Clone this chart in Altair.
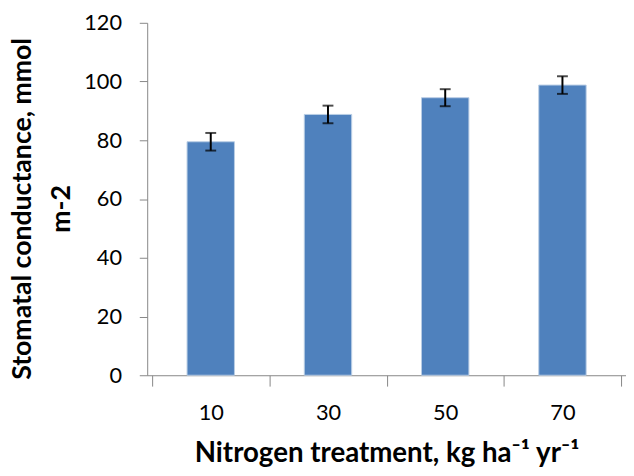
import altair as alt
import pandas as pd

nitrogen = [10, 30, 50, 70]
conductance = [79.5, 88.8, 94.5, 98.8]
std_err = [3.0, 3.0, 2.9, 3.0]
y_ticks = [0, 20, 40, 60, 80, 100, 120]
x_ticks = [0, 10, 20, 30, 40, 50, 60, 70, 80]

df = pd.DataFrame({"n": nitrogen, "g": conductance, "e": std_err})
df["lo"] = df["g"] - df["e"]
df["hi"] = df["g"] + df["e"]

FONT = "Lato"
AX = "#868686"

x_axis = alt.Axis(
    values=x_ticks,
    labelExpr="datum.value % 20 == 10 ? datum.label : ''",
    tickOpacity={"condition": {"test": "datum.value % 20 != 0", "value": 0}, "value": 1},
    title="Nitrogen treatment, kg ha⁻¹ yr⁻¹",
    grid=False, domainColor=AX, tickColor=AX, tickSize=11,
    labelPadding=17, labelFontSize=22, labelFont=FONT, labelColor="black",
    labelOverlap=False, labelFlush=False,
    titleFontSize=28, titleFontWeight="bold", titleFont=FONT, titleColor="black",
    titlePadding=16,
)
y_axis = alt.Axis(
    values=y_ticks,
    title=["Stomatal conductance, mmol", "m-2"],
    grid=False, domainColor=AX, tickColor=AX, tickSize=8,
    labelPadding=18, labelFontSize=22, labelFont=FONT, labelColor="black",
    titleFontSize=27, titleFontWeight="bold", titleFont=FONT, titleColor="black",
    titlePadding=8, titleLineHeight=40, titleY=188,
)

xs = alt.X("n:Q", scale=alt.Scale(domain=[0, 80], nice=False, zero=False), axis=x_axis)
ys = alt.Y("g:Q", scale=alt.Scale(domain=[0, 120], nice=False), axis=y_axis)

base = alt.Chart(df)
bars = base.mark_bar(size=48, color="#4F81BD", stroke="#B9CDE5", strokeWidth=1).encode(x=xs, y=ys)
err = base.mark_rule(color="black", strokeWidth=2).encode(x="n:Q", y="lo:Q", y2="hi:Q")
cap_hi = base.mark_tick(orient="horizontal", size=11, thickness=2, color="black").encode(x="n:Q", y="hi:Q")
cap_lo = base.mark_tick(orient="horizontal", size=11, thickness=2, color="black").encode(x="n:Q", y="lo:Q")

chart = alt.layer(bars, err, cap_hi, cap_lo).properties(
    width=485, height=357,
    padding={"left": 141, "top": 12, "right": 0, "bottom": 95},
    autosize=alt.AutoSizeParams(type="none"),
).configure_view(stroke=None)

chart.save("out.html", embed_options={"renderer": "svg", "actions": False})
